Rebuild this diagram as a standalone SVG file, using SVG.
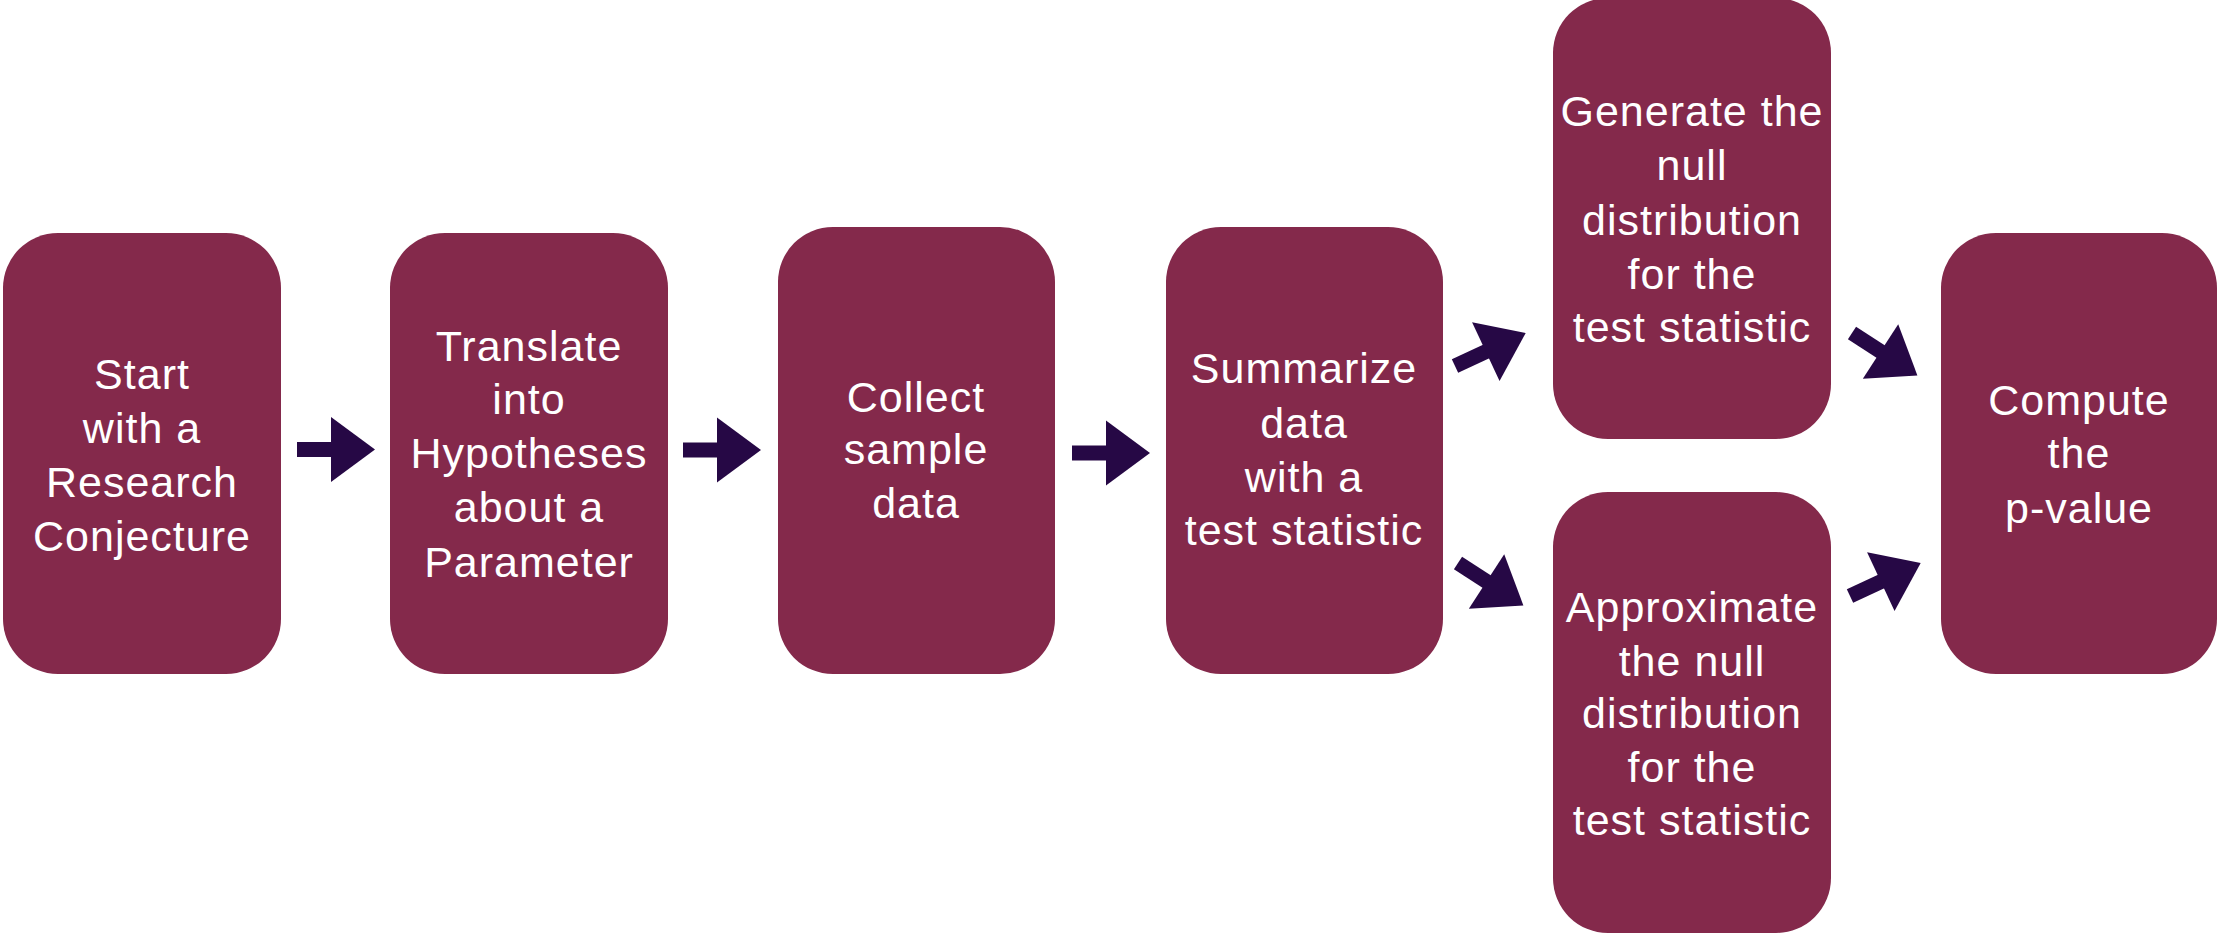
<svg xmlns="http://www.w3.org/2000/svg" xmlns:xlink="http://www.w3.org/1999/xlink" width="2218" height="937" viewBox="0 0 2218 937">
<style>
.box{fill:#84294B;}
.lbl{font-family:"Liberation Sans",Arial,Helvetica,sans-serif;font-size:43px;fill:#ffffff;text-anchor:middle;letter-spacing:1px;}
.arr{fill:#260845;}
</style>
<defs>
<g id="arrow">
<rect x="0" y="-7.5" width="35" height="15"/>
<polygon points="34,-32.5 78,0 34,32.5"/>
</g>
</defs>
<rect width="2218" height="937" fill="#ffffff"/>
<g id="n1">
<rect class="box" x="3" y="233" width="278" height="441" rx="55"/>
<text class="lbl"><tspan x="142" y="389">Start</tspan><tspan x="142" y="443">with a</tspan><tspan x="142" y="497">Research</tspan><tspan x="142" y="551">Conjecture</tspan></text>
</g>
<g id="n2">
<rect class="box" x="390" y="233" width="278" height="441" rx="55"/>
<text class="lbl"><tspan x="529" y="361">Translate</tspan><tspan x="529" y="414">into</tspan><tspan x="529" y="468">Hypotheses</tspan><tspan x="529" y="522">about a</tspan><tspan x="529" y="577">Parameter</tspan></text>
</g>
<g id="n3">
<rect class="box" x="778" y="227" width="277" height="447" rx="55"/>
<text class="lbl"><tspan x="916" y="412">Collect</tspan><tspan x="916" y="464">sample</tspan><tspan x="916" y="518">data</tspan></text>
</g>
<g id="n4">
<rect class="box" x="1166" y="227" width="277" height="447" rx="55"/>
<text class="lbl"><tspan x="1304" y="383">Summarize</tspan><tspan x="1304" y="438">data</tspan><tspan x="1304" y="492">with a</tspan><tspan x="1304" y="545">test statistic</tspan></text>
</g>
<g id="n5">
<rect class="box" x="1553" y="-2" width="278" height="441" rx="55"/>
<text class="lbl"><tspan x="1692" y="126">Generate the</tspan><tspan x="1692" y="180">null</tspan><tspan x="1692" y="235">distribution</tspan><tspan x="1692" y="289">for the</tspan><tspan x="1692" y="342">test statistic</tspan></text>
</g>
<g id="n6">
<rect class="box" x="1553" y="492" width="278" height="441" rx="55"/>
<text class="lbl"><tspan x="1692" y="622">Approximate</tspan><tspan x="1692" y="676">the null</tspan><tspan x="1692" y="728">distribution</tspan><tspan x="1692" y="782">for the</tspan><tspan x="1692" y="835">test statistic</tspan></text>
</g>
<g id="n7">
<rect class="box" x="1941" y="233" width="276" height="441" rx="55"/>
<text class="lbl"><tspan x="2079" y="415">Compute</tspan><tspan x="2079" y="468">the</tspan><tspan x="2079" y="523">p-value</tspan></text>
</g>
<g id="connectors" class="arr">
<use xlink:href="#arrow" href="#arrow" transform="translate(297,449.5)"/>
<use xlink:href="#arrow" href="#arrow" transform="translate(683,450)"/>
<use xlink:href="#arrow" href="#arrow" transform="translate(1072,453)"/>
<use xlink:href="#arrow" href="#arrow" transform="translate(1455,366) rotate(-25)"/>
<use xlink:href="#arrow" href="#arrow" transform="translate(1458,563) rotate(33)"/>
<use xlink:href="#arrow" href="#arrow" transform="translate(1852,333) rotate(33)"/>
<use xlink:href="#arrow" href="#arrow" transform="translate(1850,596) rotate(-25)"/>
</g>
</svg>
